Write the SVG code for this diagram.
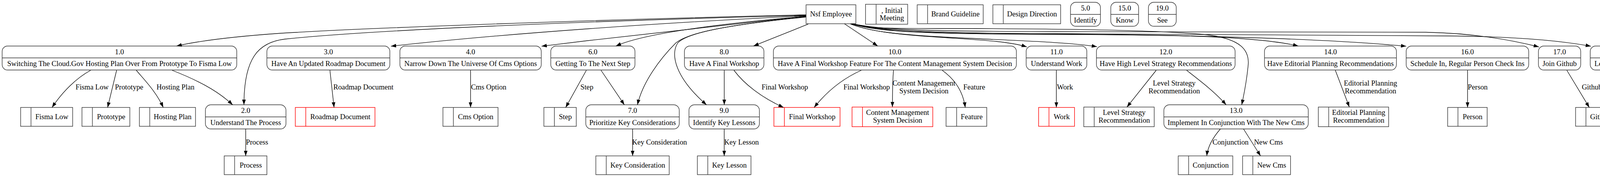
<svg xmlns="http://www.w3.org/2000/svg" width="4282" height="453" viewBox="0 0 4282 453">
<defs>
<marker id="ah" viewBox="0 0 14 10" refX="13.3" refY="5" markerWidth="14" markerHeight="10" orient="auto" markerUnits="userSpaceOnUse">
<path d="M0,0.33 L13.3,5 L0,9.67 z" fill="#000"/>
</marker>
</defs>
<style>
.n rect, .n line { fill:none; stroke:#333; stroke-width:1.4; }
.red rect, .red line { stroke:#f00; }
text { font-family:"Liberation Serif","Times New Roman",serif; font-size:18.67px; text-anchor:middle; fill:#000; }
.e path { fill:none; stroke:#000; stroke-width:1.33; marker-end:url(#ah); }
</style>
<rect x="0" y="0" width="4282" height="453" fill="#fff"/>

<!-- top row -->
<g id="nsf_employee" class="n"><rect x="2063.5" y="12.3" width="127.5" height="48.4"/><text x="2127.3" y="42">Nsf Employee</text></g>
<g id="store_initial_meeting" class="n"><rect x="2215.7" y="11" width="107.9" height="51"/><line x1="2242.8" y1="11" x2="2242.8" y2="62"/><text x="2283.2" y="32.5">, Initial</text><text x="2283.2" y="52">Meeting</text></g>
<g id="store_brand_guideline" class="n"><rect x="2348" y="12.3" width="169" height="48.4"/><line x1="2374.6" y1="12.3" x2="2374.6" y2="60.7"/><text x="2445.8" y="42">Brand Guideline</text></g>
<g id="store_design_direction" class="n"><rect x="2541.7" y="12.3" width="173.6" height="48.4"/><line x1="2568.4" y1="12.3" x2="2568.4" y2="60.7"/><text x="2641.9" y="42">Design Direction</text></g>
<g id="p5" class="n"><rect x="2740.5" y="5.7" width="76.7" height="61.6" rx="14"/><line x1="2740.5" y1="36.7" x2="2817.2" y2="36.7"/><text x="2778.9" y="26.7">5.0</text><text x="2778.9" y="57.5">Identify</text></g>
<g id="p15" class="n"><rect x="2843.6" y="5.7" width="71.2" height="61.6" rx="14"/><line x1="2843.6" y1="36.7" x2="2914.8" y2="36.7"/><text x="2879.2" y="26.7">15.0</text><text x="2879.2" y="57.5">Know</text></g>
<g id="p19" class="n"><rect x="2940" y="5.7" width="71.2" height="61.6" rx="14"/><line x1="2940" y1="36.7" x2="3011.2" y2="36.7"/><text x="2975.6" y="26.7">19.0</text><text x="2975.6" y="57.5">See</text></g>

<!-- row 1 processes -->
<g id="p1" class="n"><rect x="5.5" y="117.7" width="600.6" height="61.6" rx="14"/><line x1="5.5" y1="148.3" x2="606.1" y2="148.3"/><text x="305.8" y="138.5">1.0</text><text x="305.8" y="169.3">Switching The Cloud.Gov Hosting Plan Over From Prototype To Fisma Low</text></g>
<g id="p3" class="n"><rect x="683.3" y="117.7" width="314.7" height="61.6" rx="14"/><line x1="683.3" y1="148.3" x2="998" y2="148.3"/><text x="840.7" y="138.5">3.0</text><text x="840.7" y="169.3">Have An Updated Roadmap Document</text></g>
<g id="p4" class="n"><rect x="1023.7" y="117.7" width="361.9" height="61.6" rx="14"/><line x1="1023.7" y1="148.3" x2="1385.6" y2="148.3"/><text x="1204.7" y="138.5">4.0</text><text x="1204.7" y="169.3">Narrow Down The Universe Of Cms Options</text></g>
<g id="p6" class="n"><rect x="1410" y="117.7" width="215.5" height="61.6" rx="14"/><line x1="1410" y1="148.3" x2="1625.5" y2="148.3"/><text x="1517.8" y="138.5">6.0</text><text x="1517.8" y="169.3">Getting To The Next Step</text></g>
<g id="p8" class="n"><rect x="1752.2" y="117.7" width="203.4" height="61.6" rx="14"/><line x1="1752.2" y1="148.3" x2="1955.6" y2="148.3"/><text x="1853.9" y="138.5">8.0</text><text x="1853.9" y="169.3">Have A Final Workshop</text></g>
<g id="p10" class="n"><rect x="1979.9" y="117.7" width="622" height="61.6" rx="14"/><line x1="1979.9" y1="148.3" x2="2601.9" y2="148.3"/><text x="2290.9" y="138.5">10.0</text><text x="2290.9" y="169.3">Have A Final Workshop Feature For The Content Management System Decision</text></g>
<g id="p11" class="n"><rect x="2627" y="117.7" width="155.3" height="61.6" rx="14"/><line x1="2627" y1="148.3" x2="2782.3" y2="148.3"/><text x="2704.7" y="138.5">11.0</text><text x="2704.7" y="169.3">Understand Work</text></g>
<g id="p12" class="n"><rect x="2806.9" y="117.7" width="354.9" height="61.6" rx="14"/><line x1="2806.9" y1="148.3" x2="3161.8" y2="148.3"/><text x="2984.4" y="138.5">12.0</text><text x="2984.4" y="169.3">Have High Level Strategy Recommendations</text></g>
<g id="p14" class="n"><rect x="3237.1" y="117.7" width="337.7" height="61.6" rx="14"/><line x1="3237.1" y1="148.3" x2="3574.8" y2="148.3"/><text x="3406" y="138.5">14.0</text><text x="3406" y="169.3">Have Editorial Planning Recommendations</text></g>
<g id="p16" class="n"><rect x="3599.8" y="117.7" width="313.7" height="61.6" rx="14"/><line x1="3599.8" y1="148.3" x2="3913.5" y2="148.3"/><text x="3756.7" y="138.5">16.0</text><text x="3756.7" y="169.3">Schedule In, Regular Person Check Ins</text></g>
<g id="p17" class="n"><rect x="3938.4" y="117.7" width="108.2" height="61.6" rx="14"/><line x1="3938.4" y1="148.3" x2="4046.6" y2="148.3"/><text x="3992.5" y="138.5">17.0</text><text x="3992.5" y="169.3">Join Github</text></g>
<g id="p18" class="n"><rect x="4071" y="117.7" width="205.6" height="61.6" rx="14"/><line x1="4071" y1="148.3" x2="4276.6" y2="148.3"/><text x="4173.8" y="138.5">18.0</text><text x="4173.8" y="169.3">Learn Github How Used</text></g>

<!-- row 2 processes -->
<g id="p2" class="n"><rect x="525.8" y="268.3" width="206.3" height="61.7" rx="14"/><line x1="525.8" y1="299.3" x2="732.1" y2="299.3"/><text x="629" y="289">2.0</text><text x="629" y="320.2">Understand The Process</text></g>
<g id="p7" class="n"><rect x="1499.6" y="268.3" width="239.3" height="61.7" rx="14"/><line x1="1499.6" y1="299.3" x2="1738.9" y2="299.3"/><text x="1619.3" y="289">7.0</text><text x="1619.3" y="320.2">Prioritize Key Considerations</text></g>
<g id="p9" class="n"><rect x="1763.7" y="268.3" width="180.4" height="61.7" rx="14"/><line x1="1763.7" y1="299.3" x2="1944.1" y2="299.3"/><text x="1853.9" y="289">9.0</text><text x="1853.9" y="320.2">Identify Key Lessons</text></g>
<g id="p13" class="n"><rect x="2979.5" y="268.3" width="369.7" height="61.7" rx="14"/><line x1="2979.5" y1="299.3" x2="3349.2" y2="299.3"/><text x="3164.4" y="289">13.0</text><text x="3164.4" y="320.2">Implement In Conjunction With The New Cms</text></g>

<!-- row 2 stores -->
<g id="s_fisma_low" class="n"><rect x="52.8" y="275" width="133.2" height="48.3"/><line x1="79.4" y1="275" x2="79.4" y2="323.3"/><text x="132.7" y="304.7">Fisma Low</text></g>
<g id="s_prototype" class="n"><rect x="209.8" y="275" width="122.6" height="48.3"/><line x1="236.5" y1="275" x2="236.5" y2="323.3"/><text x="284.5" y="304.7">Prototype</text></g>
<g id="s_hosting_plan" class="n"><rect x="356.8" y="275" width="143.7" height="48.3"/><line x1="383.4" y1="275" x2="383.4" y2="323.3"/><text x="442" y="304.7">Hosting Plan</text></g>
<g id="s_roadmap_document" class="n red"><rect x="756" y="275" width="203.9" height="48.3"/><line x1="782.7" y1="275" x2="782.7" y2="323.3"/><text x="871.3" y="304.7">Roadmap Document</text></g>
<g id="s_cms_option" class="n"><rect x="1133.9" y="275" width="141" height="48.3"/><line x1="1160.6" y1="275" x2="1160.6" y2="323.3"/><text x="1217.8" y="304.7">Cms Option</text></g>
<g id="s_step" class="n"><rect x="1392.4" y="275" width="82.9" height="48.3"/><line x1="1419.3" y1="275" x2="1419.3" y2="323.3"/><text x="1447.3" y="304.7">Step</text></g>
<g id="s_final_workshop" class="n red"><rect x="1981.3" y="275" width="169.2" height="48.3"/><line x1="2008" y1="275" x2="2008" y2="323.3"/><text x="2079.3" y="304.7">Final Workshop</text></g>
<g id="s_cms_decision" class="n red"><rect x="2181.3" y="274" width="206.6" height="50.3"/><line x1="2207.9" y1="274" x2="2207.9" y2="324.3"/><text x="2297.9" y="294">Content Management</text><text x="2297.9" y="314">System Decision</text></g>
<g id="s_feature" class="n"><rect x="2421.9" y="275" width="104.2" height="48.3"/><line x1="2449" y1="275" x2="2449" y2="323.3"/><text x="2487.6" y="304.7">Feature</text></g>
<g id="s_work" class="n red"><rect x="2658.8" y="275" width="91.9" height="48.3"/><line x1="2685.4" y1="275" x2="2685.4" y2="323.3"/><text x="2718" y="304.7">Work</text></g>
<g id="s_level_strategy" class="n"><rect x="2774.5" y="274" width="180.2" height="50.3"/><line x1="2801.2" y1="274" x2="2801.2" y2="324.3"/><text x="2878" y="294">Level Strategy</text><text x="2878" y="314">Recommendation</text></g>
<g id="s_editorial_planning" class="n"><rect x="3374.9" y="274" width="180" height="50.3"/><line x1="3401.5" y1="274" x2="3401.5" y2="324.3"/><text x="3478.2" y="294">Editorial Planning</text><text x="3478.2" y="314">Recommendation</text></g>
<g id="s_person" class="n"><rect x="3706" y="275" width="101.2" height="48.3"/><line x1="3732.4" y1="275" x2="3732.4" y2="323.3"/><text x="3769.8" y="304.7">Person</text></g>
<g id="s_github" class="n"><rect x="4033.5" y="275" width="99.8" height="48"/><line x1="4060" y1="275" x2="4060" y2="323"/><text x="4096.7" y="304.7">Github</text></g>

<!-- row 3 stores -->
<g id="s_process" class="n"><rect x="574" y="399" width="109.3" height="48"/><line x1="600.6" y1="399" x2="600.6" y2="447"/><text x="642" y="428.5">Process</text></g>
<g id="s_key_consideration" class="n"><rect x="1525.4" y="399" width="187.8" height="48"/><line x1="1552" y1="399" x2="1552" y2="447"/><text x="1632.6" y="428.5">Key Consideration</text></g>
<g id="s_key_lesson" class="n"><rect x="1785.3" y="399" width="137.2" height="48"/><line x1="1811.9" y1="399" x2="1811.9" y2="447"/><text x="1867.2" y="428.5">Key Lesson</text></g>
<g id="s_conjunction" class="n"><rect x="3016.3" y="399" width="139.6" height="48"/><line x1="3042.9" y1="399" x2="3042.9" y2="447"/><text x="3099.4" y="428.5">Conjunction</text></g>
<g id="s_new_cms" class="n"><rect x="3181.1" y="399" width="122.6" height="48"/><line x1="3207.3" y1="399" x2="3207.3" y2="447"/><text x="3255.5" y="428.5">New Cms</text></g>

<!-- connectors -->
<g id="connectors" class="e">
<path d="M2063.5,38 C1700,46 1000,68 720,85 C620,92 520,102 452,117.7"/>
<path d="M2063.5,39.5 C1700,48 1000,72 730,100 C660,108 624.5,150 624.5,268.3"/>
<path d="M2063.5,40.5 C1700,58 1300,85 1000.8,118.3"/>
<path d="M2063.5,41.5 C1800,70 1600,92 1386.5,118.3"/>
<path d="M2063.5,42 C1850,60 1650,85 1576.8,117.7"/>
<path d="M2063.5,43 C1850,65 1760,85 1730,110 C1690,150 1645,210 1631.9,268.3"/>
<path d="M2063.5,43.5 C1880,62 1760,82 1735,110 C1715,140 1730,200 1808.7,268.3"/>
<path d="M2069,61.7 L1929,117.7"/>
<path d="M2162,61 L2247,117.7"/>
<path d="M2177,61.5 C2220,78 2280,87 2400,95 C2500,102 2580,105 2628.5,120"/>
<path d="M2178,61 C2225,80 2290,88 2420,95 C2600,104 2740,108 2808,119.5"/>
<path d="M2180,61 C2220,72 2260,73 2400,73 C2700,73 2950,76 3080,88 C3180,98 3200,130 3195,170 C3192,200 3185,240 3178.8,268.3"/>
<path d="M2181,61 C2240,80 2350,86 2600,87 C2900,88 3200,88 3323.5,117.7"/>
<path d="M2182,61 C2250,82 2400,87 2700,88 C3100,90 3400,100 3599.8,118.3"/>
<path d="M2183,61 C2260,78 2400,80 2700,81 C3100,83 3500,80 3650,82.5 C3780,85 3880,105 3939.5,120"/>
<path d="M2184,61 C2260,80 2400,85 2700,86 C3100,88 3500,92 3700,92 C3880,93 4000,105 4072.6,118.3"/>

<path d="M231.9,180 C195,200 160,235 133.2,275"/>
<path d="M298.5,180 L275.5,275"/>
<path d="M349,180 C370,205 400,235 417.9,275"/>
<path d="M440.8,180 C500,203 555,230 595.6,268.3"/>
<path d="M629,330 L629,399"/>
<path d="M844.6,180 L855.2,275"/>
<path d="M1204.6,180 L1204.6,275"/>
<path d="M1501,180 L1448.2,275"/>
<path d="M1538.7,180 L1598.4,268.3"/>
<path d="M1619.5,330 L1619.5,399"/>
<path d="M1854.1,180 L1854.1,268.3"/>
<path d="M1879,180 C1905,215 1950,250 2006,275"/>
<path d="M1854,330 L1854,399"/>
<path d="M2204.7,180 C2160,200 2120,230 2084.2,275"/>
<path d="M2287.3,180 C2285,210 2284.6,240 2284.6,274"/>
<path d="M2412.2,180 C2440,200 2465,230 2471,275"/>
<path d="M2704.3,180 L2704.3,275"/>
<path d="M2959.8,180 L2885,274"/>
<path d="M3037.9,180 C3070,205 3110,235 3138.9,268.3"/>
<path d="M3124.2,330 C3105,352 3092,375 3089.3,399"/>
<path d="M3183.4,330 L3227,399"/>
<path d="M3418.5,180 L3454.3,274"/>
<path d="M3756.9,180 L3756.9,275"/>
<path d="M4011.2,180 L4068.6,275"/>
<path d="M4154.9,180 L4098.5,275"/>

<text x="235.8" y="229">Fisma Low</text>
<text x="330.6" y="229">Prototype</text>
<text x="449.3" y="229">Hosting Plan</text>
<text x="658" y="370">Process</text>
<text x="930.3" y="229">Roadmap Document</text>
<text x="1251" y="229">Cms Option</text>
<text x="1502.4" y="229">Step</text>
<text x="1688.4" y="370">Key Consideration</text>
<text x="2009.1" y="229">Final Workshop</text>
<text x="1898.4" y="370">Key Lesson</text>
<text x="2218.7" y="229">Final Workshop</text>
<text x="2365.2" y="219">Content Management</text>
<text x="2365.2" y="239">System Decision</text>
<text x="2494" y="229">Feature</text>
<text x="2726.3" y="229">Work</text>
<text x="3006" y="219">Level Strategy</text>
<text x="3006" y="239">Recommendation</text>
<text x="3508.5" y="219">Editorial Planning</text>
<text x="3508.5" y="239">Recommendation</text>
<text x="3150.2" y="370">Conjunction</text>
<text x="3247.2" y="370">New Cms</text>
<text x="3783" y="229">Person</text>
<text x="4075.3" y="229">Github</text>
<text x="4166.3" y="229">Github</text>
</g>
</svg>
